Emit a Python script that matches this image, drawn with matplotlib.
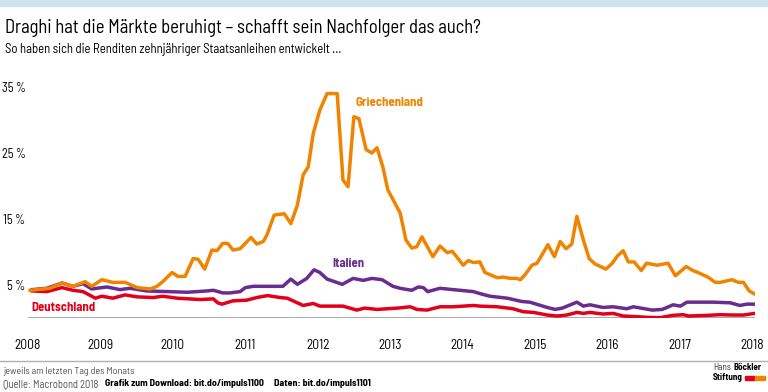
import matplotlib
matplotlib.use('Agg')
import matplotlib.pyplot as plt
from matplotlib.patches import Rectangle
from matplotlib.lines import Line2D

plt.rcParams['font.family'] = ['Barlow Semi Condensed', 'Roboto Condensed', 'Liberation Sans', 'DejaVu Sans']

# Griechenland
gr_t = [2008.03, 2008.30, 2008.47, 2008.62, 2008.79, 2008.88, 2009.02, 2009.17, 2009.34, 2009.51,
        2009.69, 2009.78, 2009.86, 2009.99, 2010.07, 2010.17, 2010.28, 2010.35, 2010.44, 2010.54,
        2010.61, 2010.69, 2010.76, 2010.83, 2010.93, 2011.08, 2011.16, 2011.25, 2011.30, 2011.40,
        2011.54, 2011.63, 2011.72, 2011.80, 2011.87, 2011.94, 2012.03, 2012.13, 2012.27, 2012.35,
        2012.42, 2012.50, 2012.57, 2012.67, 2012.75, 2012.82, 2012.90, 2012.97, 2013.14, 2013.22,
        2013.30, 2013.37, 2013.44, 2013.59, 2013.69, 2013.79, 2013.86, 2014.01, 2014.08, 2014.15,
        2014.24, 2014.31, 2014.48, 2014.56, 2014.66, 2014.75, 2014.80, 2014.86, 2014.96, 2015.03,
        2015.18, 2015.27, 2015.35, 2015.43, 2015.51, 2015.58, 2015.67, 2015.75, 2015.83, 2015.98,
        2016.07, 2016.14, 2016.22, 2016.29, 2016.37, 2016.47, 2016.54, 2016.69, 2016.84, 2016.94,
        2017.09, 2017.18, 2017.25, 2017.39, 2017.49, 2017.56, 2017.72, 2017.81, 2017.88, 2017.96,
        2018.04]
gr_v = [4.2, 4.5, 5.3, 4.8, 5.5, 4.8, 5.8, 5.4, 5.4, 4.6,
        4.4, 4.8, 5.5, 6.9, 6.3, 6.3, 9.0, 8.9, 7.4, 10.3,
        10.2, 11.3, 11.3, 10.3, 10.5, 12.2, 11.2, 11.6, 12.6, 15.6,
        15.8, 14.3, 17.1, 21.7, 22.9, 28.0, 31.5, 34.0, 34.0, 20.9,
        19.9, 30.5, 30.2, 25.5, 25.0, 25.8, 22.9, 19.4, 15.9, 11.8,
        10.6, 10.8, 12.3, 9.3, 10.9, 9.9, 10.1, 8.0, 8.7, 8.4,
        8.5, 6.9, 6.1, 6.2, 6.0, 6.0, 5.8, 6.5, 8.0, 8.3,
        11.1, 9.3, 11.6, 10.5, 11.2, 15.4, 11.8, 9.0, 8.2, 7.4,
        8.3, 9.4, 10.2, 8.5, 8.5, 7.2, 8.3, 8.0, 8.3, 6.4,
        7.8, 7.2, 6.9, 6.2, 5.4, 5.4, 5.8, 5.4, 5.4, 4.1,
        3.6]

# Italien
it_t = [2008.06, 2008.26, 2008.47, 2008.62, 2008.76, 2008.88, 2009.09, 2009.27, 2009.41, 2009.64,
        2009.92, 2010.20, 2010.47, 2010.56, 2010.69, 2010.79, 2010.93, 2011.00, 2011.11, 2011.52,
        2011.63, 2011.72, 2011.85, 2011.95, 2012.03, 2012.13, 2012.34, 2012.49, 2012.63, 2012.75,
        2012.89, 2013.04, 2013.14, 2013.30, 2013.39, 2013.46, 2013.52, 2013.69, 2013.87, 2014.15,
        2014.24, 2014.38, 2014.62, 2014.82, 2014.93, 2015.17, 2015.28, 2015.38, 2015.49, 2015.58,
        2015.67, 2015.76, 2015.94, 2016.08, 2016.27, 2016.36, 2016.62, 2016.76, 2016.91, 2017.01,
        2017.10, 2017.46, 2017.70, 2017.83, 2017.93, 2018.04]
it_v = [4.3, 4.5, 5.3, 4.8, 5.2, 4.4, 4.7, 4.3, 4.5, 4.1,
        4.0, 3.9, 4.1, 4.2, 3.8, 3.8, 4.0, 4.6, 4.8, 4.8,
        5.9, 5.1, 6.0, 7.3, 6.9, 5.9, 5.1, 6.0, 5.7, 6.0,
        5.8, 4.8, 4.5, 4.2, 4.7, 4.6, 4.0, 4.5, 4.3, 4.0,
        3.7, 3.3, 3.0, 2.5, 2.4, 1.6, 1.3, 1.5, 2.0, 2.4,
        1.8, 2.0, 1.6, 1.7, 1.4, 1.7, 1.2, 1.3, 2.0, 1.8,
        2.4, 2.4, 2.3, 1.9, 2.1, 2.1]

# Deutschland
de_t = [2008.06, 2008.26, 2008.47, 2008.62, 2008.76, 2008.93, 2009.02, 2009.17, 2009.34, 2009.51,
        2009.73, 2009.86, 2010.06, 2010.38, 2010.56, 2010.62, 2010.68, 2010.83, 2011.02, 2011.16,
        2011.31, 2011.48, 2011.58, 2011.80, 2011.94, 2012.03, 2012.35, 2012.54, 2012.65, 2012.82,
        2013.10, 2013.28, 2013.37, 2013.51, 2013.69, 2013.87, 2014.15, 2014.24, 2014.48, 2014.70,
        2014.84, 2014.98, 2015.17, 2015.31, 2015.44, 2015.58, 2015.67, 2015.76, 2015.94, 2016.08,
        2016.22, 2016.41, 2016.55, 2016.73, 2016.90, 2017.05, 2017.12, 2017.38, 2017.56, 2017.74,
        2017.88, 2018.04]
de_v = [4.1, 4.0, 4.6, 4.2, 4.0, 3.0, 3.3, 3.0, 3.5, 3.2,
        3.1, 3.3, 3.0, 2.8, 2.9, 2.3, 2.1, 2.6, 2.7, 3.1,
        3.4, 3.1, 3.0, 1.9, 2.2, 1.8, 1.8, 1.2, 1.5, 1.3,
        1.5, 1.7, 1.3, 1.2, 1.7, 1.7, 1.9, 1.8, 1.7, 1.4,
        0.95, 0.85, 0.45, 0.3, 0.45, 0.85, 0.7, 0.85, 0.6, 0.7,
        0.3, 0.2, 0.1, 0.05, 0.4, 0.5, 0.3, 0.4, 0.5, 0.45,
        0.45, 0.7]

years = list(range(2008, 2019))
y_ticks = [5, 15, 25, 35]
y_labels = ['5\u2009%', '15\u2009%', '25\u2009%', '35\u2009%']

orange = '#f08400'
purple = '#6a2c8e'
red = '#e3001b'

W, H = 768, 392
fig = plt.figure(figsize=(W / 100, H / 100), dpi=100)
rend = fig.canvas.get_renderer()


def fit(t, px):
    # scale font so the text is px pixels wide
    w = t.get_window_extent(rend).width
    t.set_fontsize(t.get_fontsize() * px / w)
    return t


def fy(y):
    return 1 - y / H


def probe_size(s, px):
    p = fit(fig.text(0, 0, s, fontsize=10), px)
    fs = p.get_fontsize()
    p.remove()
    return fs


ax = fig.add_axes([28 / W, (H - 318) / H, 727 / W, 237.6 / H])

ax.axhline(0, color='#a8a8a8', lw=1.4, zorder=1)
ax.plot(de_t, de_v, color=red, lw=2.5, solid_joinstyle='round', zorder=3)
ax.plot(it_t, it_v, color=purple, lw=2.5, solid_joinstyle='round', zorder=4)
ax.plot(gr_t, gr_v, color=orange, lw=2.5, solid_joinstyle='round', zorder=5)

ax.set_xlim(2008, 2018.04)
ax.set_ylim(0, 36)
for s in ax.spines.values():
    s.set_visible(False)

x_fs = probe_size('2008', 26)
y_fs = probe_size(y_labels[-1], 24)

ax.set_xticks(years)
ax.set_xticklabels([str(y) for y in years], fontsize=x_fs)
ax.set_yticks(y_ticks)
ax.set_yticklabels(y_labels, fontsize=y_fs)
ax.tick_params(length=0)
ax.tick_params(axis='x', pad=15)
ax.tick_params(axis='y', pad=1.8)

fit(ax.text(2012.52, 32.6, 'Griechenland', color=orange, fontsize=11, fontweight='bold', va='center'), 68)
fit(ax.text(2012.20, 8.3, 'Italien', color=purple, fontsize=11, fontweight='bold', va='center'), 32)
fit(ax.text(2008.04, 1.55, 'Deutschland', color=red, fontsize=11, fontweight='bold', va='center'), 64)

# top bar
fig.patches.append(Rectangle((0, fy(6)), 1, 6 / H, transform=fig.transFigure,
                             color='#cde3ee', zorder=0))
fit(fig.text(5 / W, fy(28), 'Draghi hat die Märkte beruhigt – schafft sein Nachfolger das auch?',
             fontsize=16, va='center', ha='left'), 477)
fit(fig.text(5 / W, fy(50), 'So haben sich die Renditen zehnjähriger Staatsanleihen entwickelt …',
             fontsize=10.5, va='center', ha='left'), 338)

# footer
fig.lines.append(Line2D([0, 1], [fy(361), fy(361)], transform=fig.transFigure,
                        color='#b0b0b0', lw=1))
fit(fig.text(3 / W, fy(371), 'jeweils am letzten Tag des Monats', fontsize=8,
             color='#555555', va='center'), 132)
fit(fig.text(3 / W, fy(384), 'Quelle: Macrobond 2018', fontsize=8, color='#555555', va='center'), 95)
fit(fig.text(105 / W, fy(384), 'Grafik zum Download: bit.do/impuls1100', fontsize=8,
             fontweight='bold', va='center'), 160)
fit(fig.text(274 / W, fy(384), 'Daten: bit.do/impuls1101', fontsize=8, fontweight='bold', va='center'), 98)

fit(fig.text(713 / W, fy(368), 'Hans', fontsize=6.5, color='#333333', va='center'), 18)
fit(fig.text(762 / W, fy(368), 'Böckler', fontsize=6.5, fontweight='bold', va='center', ha='right'), 28)
fit(fig.text(713 / W, fy(377), 'Stiftung', fontsize=6.5, fontweight='bold', va='center'), 30)
fig.patches.append(Rectangle((745 / W, fy(380)), 10 / W, 4 / H, transform=fig.transFigure,
                             color=red))
fig.patches.append(Rectangle((755 / W, fy(380)), 10 / W, 4 / H, transform=fig.transFigure,
                             color=orange))

fig.savefig('out.png', dpi=100)
